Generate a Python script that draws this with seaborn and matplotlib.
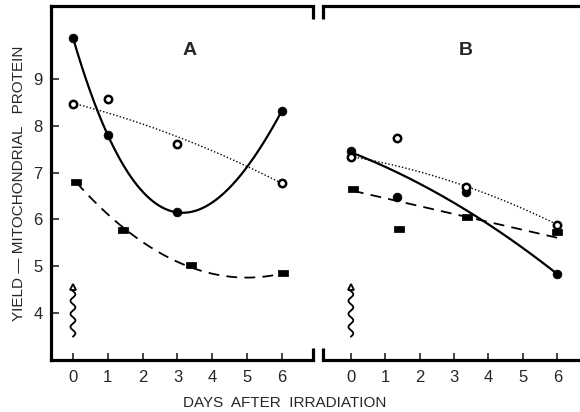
import numpy as np
import pandas as pd
import matplotlib
matplotlib.use("Agg")
import matplotlib.pyplot as plt
import seaborn as sns

# ---- data ----
days_a_filled = [0, 1, 3, 6]
yield_a_filled = [9.88, 7.80, 6.15, 8.32]
days_a_open = [0, 1, 3, 6]
yield_a_open = [8.47, 8.57, 7.60, 6.77]
days_a_rect = [0.1, 1.43, 3.4, 6.03]
yield_a_rect = [6.79, 5.77, 5.02, 4.85]

days_b_filled = [0, 1.34, 3.34, 6]
yield_b_filled = [7.45, 6.47, 6.58, 4.83]
days_b_open = [0, 1.34, 3.34, 6]
yield_b_open = [7.34, 7.74, 6.70, 5.89]
days_b_rect = [0.06, 1.4, 3.37, 6.0]
yield_b_rect = [6.64, 5.79, 6.06, 5.74]

x_ticks = [0, 1, 2, 3, 4, 5, 6]
y_ticks = [4, 5, 6, 7, 8, 9]
panel_labels = ["A", "B"]

sns.set_theme(style="white")
plt.rcParams["font.family"] = ["Liberation Sans", "DejaVu Sans"]

fig = plt.figure(figsize=(5.8, 4.12), dpi=100)
axA = fig.add_axes([0.0879, 0.126, 0.4517, 0.859])
axB = fig.add_axes([0.5569, 0.126, 0.4431, 0.859])

rect_marker = [(-1, -0.6), (1, -0.6), (1, 0.6), (-1, 0.6), (-1, -0.6)]


def fit_curve(x, y, deg, weights=None):
    coef = np.polyfit(x, y, deg, w=weights)
    xs = np.linspace(min(x), max(x), 200)
    return pd.DataFrame({"x": xs, "y": np.polyval(coef, xs)})


def draw_panel(ax, filled, opened, rect, degs, wts):
    (fx, fy), (ox, oy), (rx, ry) = filled, opened, rect
    cf = fit_curve(fx, fy, degs[0], wts[0])
    co = fit_curve(ox, oy, degs[1], wts[1])
    cr = fit_curve(rx, ry, degs[2], wts[2])
    sns.lineplot(data=cf, x="x", y="y", ax=ax, color="black", lw=1.6, sort=False)
    sns.lineplot(data=co, x="x", y="y", ax=ax, color="black", lw=1.0,
                 linestyle=(0, (1, 1.5)), sort=False)
    sns.lineplot(data=cr, x="x", y="y", ax=ax, color="black", lw=1.3,
                 linestyle=(0, (6, 4)), sort=False)
    sns.scatterplot(x=fx, y=fy, ax=ax, color="black", s=40, edgecolor="black", zorder=5)
    sns.scatterplot(x=ox, y=oy, ax=ax, facecolor="white", s=28, edgecolor="black",
                    linewidth=1.8, zorder=5)
    sns.scatterplot(x=rx, y=ry, ax=ax, color="black", marker=rect_marker, s=45,
                    edgecolor="black", zorder=5)


draw_panel(axA, (days_a_filled, yield_a_filled), (days_a_open, yield_a_open),
           (days_a_rect, yield_a_rect), (3, 2, 2), (None, [4, 1, 1, 4], [4, 1, 1, 4]))
draw_panel(axB, (days_b_filled, yield_b_filled), (days_b_open, yield_b_open),
           (days_b_rect, yield_b_rect), (2, 2, 1), ([4, 1, 1, 4], [4, 0.3, 2, 4], [4, 1, 1, 1]))

for ax, lab, xl in [(axA, panel_labels[0], (-0.63, 6.89)), (axB, panel_labels[1], (-0.81, 6.66))]:
    ax.set_xlim(*xl)
    ax.set_ylim(3.0, 10.55)
    ax.set_xticks(x_ticks)
    ax.set_xticklabels([str(t) for t in x_ticks], fontsize=12)
    ax.set_xlabel("")
    ax.set_ylabel("")
    ax.tick_params(axis="x", direction="in", length=5, width=1.2, pad=7, bottom=True)
    ax.text(3.35, 9.6, lab, fontsize=14, fontweight="bold", ha="center", va="center")
    # wavy irradiation arrow at day 0
    wy = np.linspace(3.5, 4.5, 120)
    wx = 0.07 * np.sin((wy - 3.5) * 2 * np.pi * 3.6)
    ax.plot(wx, wy, color="black", lw=1.3)
    ax.plot([0], [4.55], marker="^", color="black", markerfacecolor="white",
            markersize=5, markeredgewidth=1.3)
    for s in ax.spines.values():
        s.set_color("black")
        s.set_linewidth(2.3)

axA.set_yticks(y_ticks)
axA.set_yticklabels([str(t) for t in y_ticks], fontsize=12)
axA.tick_params(axis="y", direction="in", length=6, width=1.2, pad=6, left=True)
axA.spines["right"].set_visible(False)
axB.set_yticks([])
axB.spines["left"].set_visible(False)
axB.spines["right"].set_visible(False)

# short broken-axis stubs
axA.plot([1, 1], [1, 0.965], transform=axA.transAxes, color="black", lw=2.3,
         clip_on=False, solid_capstyle="butt")
axA.plot([1, 1], [0, 0.035], transform=axA.transAxes, color="black", lw=2.3,
         clip_on=False, solid_capstyle="butt")
axB.plot([0, 0], [1, 0.965], transform=axB.transAxes, color="black", lw=2.3,
         clip_on=False, solid_capstyle="butt")
axB.plot([0, 0], [0, 0.035], transform=axB.transAxes, color="black", lw=2.3,
         clip_on=False, solid_capstyle="butt")

fig.text(0.033, 0.555, "YIELD \u2014 MITOCHONDRIAL   PROTEIN", rotation=90,
         fontsize=11, ha="center", va="center")
fig.text(0.49, 0.022, "DAYS  AFTER  IRRADIATION", fontsize=11, ha="center", va="center")

fig.savefig("out.png", dpi=100)
